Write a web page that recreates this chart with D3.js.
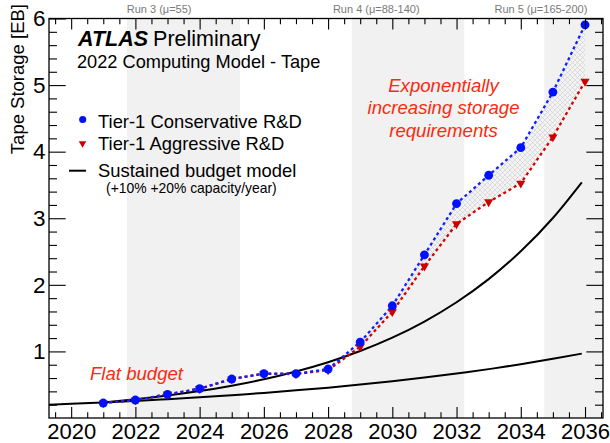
<!DOCTYPE html>
<html>
<head>
<meta charset="utf-8">
<script src="https://cdn.jsdelivr.net/npm/d3@7"></script>
<style>
  html, body { margin: 0; padding: 0; background: #fff; }
  svg { display: block; font-family: "Liberation Sans", Arial, Helvetica, sans-serif; }
</style>
</head>
<body>
<svg id="chart" width="610" height="443"></svg>
<script>
// Projection years
const years = [2021, 2022, 2023, 2024, 2025, 2026, 2027, 2028, 2029, 2030, 2031, 2032, 2033, 2034, 2035, 2036];
// Tape storage needs [EB]
const conservative = [0.225, 0.27, 0.355, 0.44, 0.585, 0.665, 0.665, 0.735, 1.14, 1.685, 2.45, 3.22, 3.645, 4.06, 4.895, 5.905];
const aggressive   = [0.225, 0.27, 0.355, 0.44, 0.585, 0.665, 0.66, 0.72, 1.07, 1.595, 2.28, 2.915, 3.245, 3.525, 4.22, 5.055];

// Sustained budget model curves
const budgetYears10 = [2019.31, 2020, 2021, 2022, 2023, 2024, 2025, 2026, 2027, 2028, 2029, 2030, 2031, 2032, 2033, 2034, 2035, 2035.9];
const budget10 = [0.199, 0.213, 0.234, 0.257, 0.283, 0.311, 0.343, 0.377, 0.415, 0.456, 0.502, 0.552, 0.607, 0.668, 0.734, 0.808, 0.889, 0.967];
const budgetYears20 = [2021, 2022, 2023, 2024, 2025, 2026, 2027, 2028, 2029, 2030, 2031, 2032, 2033, 2034, 2035, 2035.9];
const budget20 = [0.234, 0.281, 0.337, 0.404, 0.485, 0.582, 0.699, 0.838, 1.006, 1.207, 1.449, 1.739, 2.086, 2.504, 3.004, 3.54];

// LHC run periods
const runNames = ["Run 3 (\u03bc=55)", "Run 4 (\u03bc=88-140)", "Run 5 (\u03bc=165-200)"];
const runStart = [2021.74, 2028.74, 2034.73];
const runEnd   = [2025.26, 2032.24, 2036.6];
const runLabelYear = [2021.73, 2028.15, 2033.18];

// Axis ticks
const xMajor = [2020, 2022, 2024, 2026, 2028, 2030, 2032, 2034, 2036];
const yMajor = [1, 2, 3, 4, 5, 6];

const svg = d3.select("#chart");
const frameL = 49, frameR = 603, frameT = 18.5, frameB = 418;

const x = d3.scaleLinear().domain([2019.31, 2036.56]).range([frameL, frameR]);
const y = d3.scaleLinear().domain([0, 6]).range([frameB, frameT]);

const xMinor = d3.range(2019.5, 2036.6, 0.5).filter(v => !xMajor.includes(v));
const yMinor = d3.range(0.2, 6, 0.2).map(v => +v.toFixed(1)).filter(v => Math.abs(v - Math.round(v)) > 1e-6);

const defs = svg.append("defs");
defs.append("clipPath").attr("id", "frame")
  .append("rect").attr("x", frameL).attr("y", frameT).attr("width", frameR - frameL).attr("height", frameB - frameT);

const pat = defs.append("pattern").attr("id", "hatch")
  .attr("patternUnits", "userSpaceOnUse").attr("width", 5).attr("height", 5);
pat.append("rect").attr("width", 5).attr("height", 5).attr("fill", "#f3f3f3");
pat.append("path").attr("d", "M0,0L5,5M5,0L0,5")
  .attr("stroke", "#c8c8c8").attr("stroke-width", 0.55).attr("fill", "none");

const plot = svg.append("g").attr("clip-path", "url(#frame)");

// Run bands
plot.selectAll("rect.band").data(runStart).join("rect")
  .attr("class", "band")
  .attr("x", (d) => x(d))
  .attr("y", frameT)
  .attr("width", (d, i) => x(runEnd[i]) - x(d))
  .attr("height", frameB - frameT)
  .attr("fill", "#f1f1f1");

svg.selectAll("text.run").data(runNames).join("text")
  .attr("class", "run")
  .attr("x", (d, i) => x(runLabelYear[i]))
  .attr("y", 12.5)
  .attr("font-size", 11)
  .attr("fill", "#7a7a7a")
  .text(d => d);

// Spread between the two R&D scenarios
const spread = years.map((yr, i) => ({ yr, hi: conservative[i], lo: aggressive[i] }));
plot.append("path").datum(spread)
  .attr("d", d3.area().x(d => x(d.yr)).y0(d => y(d.lo)).y1(d => y(d.hi)))
  .attr("fill", "url(#hatch)");

// Budget model curves
const budgetLine = d3.line().x(d => x(d[0])).y(d => y(d[1])).curve(d3.curveNatural);
plot.append("path").datum(budgetYears10.map((v, i) => [v, budget10[i]]))
  .attr("d", budgetLine).attr("fill", "none").attr("stroke", "#000").attr("stroke-width", 2);
plot.append("path").datum(budgetYears20.map((v, i) => [v, budget20[i]]))
  .attr("d", budgetLine).attr("fill", "none").attr("stroke", "#000").attr("stroke-width", 2);

// Scenario lines
const dataLine = d3.line().x((d, i) => x(years[i])).y(d => y(d));
plot.append("path").datum(aggressive)
  .attr("d", dataLine).attr("fill", "none").attr("stroke", "#d40000")
  .attr("stroke-width", 2.3).attr("stroke-dasharray", "3,3");
plot.append("path").datum(conservative)
  .attr("d", dataLine).attr("fill", "none").attr("stroke", "#1020ff")
  .attr("stroke-width", 2.3).attr("stroke-dasharray", "3,3");

const tri = d3.symbol().type(d3.symbolTriangle).size(36);
const dot = d3.symbol().type(d3.symbolCircle).size(62);

plot.selectAll("path.agg").data(aggressive).join("path")
  .attr("class", "agg")
  .attr("d", tri)
  .attr("transform", (d, i) => `translate(${x(years[i])},${y(d)}) rotate(180)`)
  .attr("fill", "#cc0000");
plot.selectAll("path.cons").data(conservative).join("path")
  .attr("class", "cons")
  .attr("d", dot)
  .attr("transform", (d, i) => `translate(${x(years[i])},${y(d)})`)
  .attr("fill", "#0010ff");

// Axes
function styleAxis(g) {
  g.select(".domain").remove();
  g.selectAll(".tick line").attr("stroke", "#000").attr("stroke-width", 1.1);
  g.selectAll(".tick text").attr("fill", "#000");
}
const fmtYear = d3.format("d");
svg.append("g").attr("transform", `translate(0,${frameB})`)
  .call(d3.axisBottom(x).tickValues(xMajor).tickSize(-11).tickPadding(5).tickFormat(fmtYear))
  .call(styleAxis)
  .call(g => g.selectAll("text").attr("font-size", 22).attr("font-family", "Liberation Sans, Arial, sans-serif"));
svg.append("g").attr("transform", `translate(0,${frameB})`)
  .call(d3.axisBottom(x).tickValues(xMinor).tickSize(-5.7).tickFormat(""))
  .call(styleAxis);
svg.append("g").attr("transform", `translate(0,${frameT})`)
  .call(d3.axisTop(x).tickValues(xMajor).tickSize(-11).tickFormat(""))
  .call(styleAxis);
svg.append("g").attr("transform", `translate(0,${frameT})`)
  .call(d3.axisTop(x).tickValues(xMinor).tickSize(-5.7).tickFormat(""))
  .call(styleAxis);

svg.append("g").attr("transform", `translate(${frameL},0)`)
  .call(d3.axisLeft(y).tickValues(yMajor).tickSize(-16.7).tickPadding(3.5).tickFormat(d3.format("d")))
  .call(styleAxis)
  .call(g => g.selectAll("text").attr("font-size", 22.5).attr("font-family", "Liberation Sans, Arial, sans-serif"));
svg.append("g").attr("transform", `translate(${frameL},0)`)
  .call(d3.axisLeft(y).tickValues(yMinor).tickSize(-8).tickFormat(""))
  .call(styleAxis);
svg.append("g").attr("transform", `translate(${frameR},0)`)
  .call(d3.axisRight(y).tickValues(yMajor).tickSize(-16.7).tickFormat(""))
  .call(styleAxis);
svg.append("g").attr("transform", `translate(${frameR},0)`)
  .call(d3.axisRight(y).tickValues(yMinor).tickSize(-8).tickFormat(""))
  .call(styleAxis);

// Frame
svg.append("rect").attr("x", frameL).attr("y", frameT)
  .attr("width", frameR - frameL).attr("height", frameB - frameT)
  .attr("fill", "none").attr("stroke", "#000").attr("stroke-width", 1.3);

// Axis title
svg.append("text")
  .attr("transform", "translate(24,4) rotate(-90)")
  .attr("text-anchor", "end")
  .attr("font-size", 18.5)
  .text("Tape Storage [EB]");

// Header
const head = svg.append("text").attr("x", 78).attr("y", 46.3).attr("font-size", 21.5);
head.append("tspan").attr("font-weight", "bold").attr("font-style", "italic").text("ATLAS");
head.append("tspan").attr("dx", 5).text("Preliminary");
svg.append("text").attr("x", 77).attr("y", 67.6).attr("font-size", 18.2)
  .text("2022 Computing Model - Tape");

// Legend
svg.append("path").attr("d", d3.symbol().type(d3.symbolCircle).size(40))
  .attr("transform", "translate(82.7,119.5)").attr("fill", "#0010ff");
svg.append("path").attr("d", d3.symbol().type(d3.symbolTriangle).size(24))
  .attr("transform", "translate(82.5,143.5) rotate(180)").attr("fill", "#cc0000");
svg.append("line").attr("x1", 69).attr("x2", 86).attr("y1", 170.7).attr("y2", 170.7)
  .attr("stroke", "#000").attr("stroke-width", 2);
const legendText = ["Tier-1 Conservative R&D", "Tier-1 Aggressive R&D", "Sustained budget model"];
const legendBase = [127.5, 150, 176.7];
svg.selectAll("text.leg").data(legendText).join("text")
  .attr("class", "leg")
  .attr("x", 98).attr("y", (d, i) => legendBase[i])
  .attr("font-size", 18.4)
  .text(d => d);
svg.append("text").attr("x", 106).attr("y", 193).attr("font-size", 13.9)
  .text("(+10% +20% capacity/year)");

// Annotations
const note = svg.append("text").attr("font-size", 18.6).attr("font-style", "italic")
  .attr("fill", "#fa2a10").attr("text-anchor", "middle");
["Exponentially", "increasing storage", "requirements"].forEach((t, i) => {
  note.append("tspan").attr("x", 443.5).attr("y", 91.8 + i * 22.5).text(t);
});
svg.append("text").attr("x", 90).attr("y", 379.5).attr("font-size", 18.6)
  .attr("font-style", "italic").attr("fill", "#fa2a10").text("Flat budget");
</script>
</body>
</html>
